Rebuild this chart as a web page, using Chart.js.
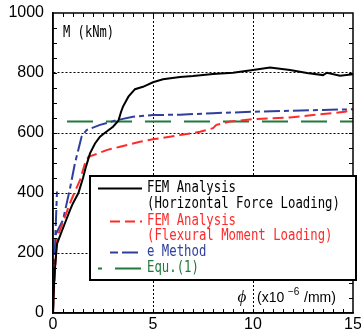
<!DOCTYPE html>
<html><head><meta charset="utf-8">
<script src="https://cdn.jsdelivr.net/npm/chart.js@4"></script>
<style>html,body{margin:0;padding:0;background:#fff}#wrap{width:361px;height:335px}</style>
</head><body><div id="wrap"><canvas id="c" width="361" height="335"></canvas></div>
<script>
// ---- data (phi in x10^-6 /mm, M in kNm) ----
const horizPhi = [0, 0.05, 0.1, 0.2, 0.27, 0.6, 0.85, 1.0, 1.27, 1.5, 1.65, 1.85, 2.1, 2.35, 2.6, 3.0, 3.27, 3.4, 3.5, 3.77, 4.1, 4.5, 5.0, 5.5, 6.35, 7.0, 8.0, 9.0, 10.0, 10.85, 11.85, 12.7, 13.5, 13.7, 14.35, 15.0];
const horizM   = [0, 90, 150, 230, 243, 300, 343, 366, 400, 450, 488, 532, 565, 588, 601, 621, 641, 670, 688, 721, 746, 754, 769, 779, 787, 790, 797, 801, 810, 818, 810, 800, 793, 801, 791, 796];

const flexPhi = [0, 0.05, 0.15, 0.22, 0.4, 0.6, 0.85, 1.0, 1.35, 1.6, 1.77, 2.18, 2.68, 3.35, 4.35, 5.0, 6.35, 7.35, 8.0, 8.17, 8.85, 10.0, 11.85, 13.0, 14.0, 14.6, 15.0];
const flexM   = [0, 80, 200, 255, 285, 321, 366, 390, 443, 499, 521, 530, 543, 554, 571, 579, 593, 604, 616, 627, 638, 646, 652, 660, 666, 671, 679];

const eMethodAPhi = [0, 0.05, 0.12, 0.2];
const eMethodAM   = [0, 120, 260, 405];
const eMethodBPhi = [0.12, 0.5, 0.85, 1.1, 1.43, 1.68, 2.35, 3.2, 4.0, 5.0, 6.35, 8.0, 10.0, 11.85, 13.5, 15.0];
const eMethodBM   = [260, 310, 415, 500, 588, 610, 627, 643, 654, 660, 661, 666, 671, 674, 677, 679];

const equPhi = [0, 15];
const equM   = [638, 638];

const xTickLabels = [0, 5, 10, 15];
const yTickLabels = [0, 200, 400, 600, 800, 1000];

const legendLabels = [
  ["FEM Analysis", "(Horizontal Force Loading)"],
  ["FEM Analysis", "(Flexural Moment Loading)"],
  ["e Method"],
  ["Equ.(1)"]
];

// ---- colours / styles ----
const C_BLACK = '#000000', C_RED = '#ff2a2a', C_BLUE = '#2e3f9c', C_GREEN = '#1f7a3c';
const pts = (xs, ys) => xs.map((v, i) => ({x: v, y: ys[i]}));

const datasets = [
  {label: legendLabels[0].join(' '), data: pts(horizPhi, horizM), borderColor: C_BLACK, borderWidth: 2},
  {label: legendLabels[1].join(' '), data: pts(flexPhi, flexM), borderColor: C_RED, borderWidth: 2, borderDash: [11, 5]},
  {label: legendLabels[2][0], data: pts(eMethodAPhi, eMethodAM), borderColor: C_BLUE, borderWidth: 2, borderDash: [16, 4, 5, 4]},
  {label: legendLabels[2][0], data: pts(eMethodBPhi, eMethodBM), borderColor: C_BLUE, borderWidth: 2, borderDash: [16, 4, 5, 4]},
  {label: legendLabels[3][0], data: pts(equPhi, equM), borderColor: C_GREEN, borderWidth: 2, borderDash: [26, 13], borderDashOffset: 25}
];
datasets.forEach(d => { d.pointRadius = 0; d.tension = 0; d.fill = false; });

const MONO = '"DejaVu Sans Mono", "Liberation Mono", monospace';
function condText(ctx, s, x, y, perChar) {
  ctx.fillText(s, x, y, s.length * perChar);
}

const framePlugin = {
  id: 'frame',
  afterDraw(chart) {
    const {ctx, chartArea: a, scales: {x, y}} = chart;
    ctx.save();
    ctx.strokeStyle = '#000';
    ctx.lineWidth = 1;
    ctx.beginPath();
    for (let v = 0.5; v < 15; v += 0.5) {
      const px = Math.round(x.getPixelForValue(v)) + 0.5;
      ctx.moveTo(px, a.bottom); ctx.lineTo(px, a.bottom - 4);
      ctx.moveTo(px, a.top); ctx.lineTo(px, a.top + 4);
    }
    for (let v = 50; v < 1000; v += 50) {
      const py = Math.round(y.getPixelForValue(v)) + 0.5;
      ctx.moveTo(a.left, py); ctx.lineTo(a.left + 4, py);
      ctx.moveTo(a.right, py); ctx.lineTo(a.right - 4, py);
    }
    ctx.stroke();
    ctx.lineWidth = 1.5;
    ctx.strokeRect(a.left, a.top, a.right - a.left, a.bottom - a.top);

    // axis titles
    ctx.fillStyle = '#000';
    ctx.textBaseline = 'middle';
    ctx.textAlign = 'left';
    ctx.font = '15px ' + MONO;
    condText(ctx, 'M (kNm)', 63, 33, 7.3);

    ctx.font = 'italic 17px "Liberation Serif", serif';
    ctx.textAlign = 'center';
    ctx.fillText('\u03D5', 242, 298);
    ctx.textAlign = 'left';
    ctx.font = '14px "Liberation Sans", Arial, sans-serif';
    ctx.fillText('(x10', 257, 298);
    ctx.font = '10px "Liberation Sans", Arial, sans-serif';
    ctx.fillText('\u22126', 288, 292);
    ctx.font = '14px "Liberation Sans", Arial, sans-serif';
    ctx.fillText('/mm)', 304, 298);

    // legend box
    const L = 90, T = 176, R = 356, B = 280;
    ctx.fillStyle = '#fff';
    ctx.fillRect(L, T, R - L, B - T);
    ctx.lineWidth = 2;
    ctx.strokeStyle = '#000';
    ctx.strokeRect(L, T, R - L, B - T);

    const entries = [
      {lines: legendLabels[0], color: C_BLACK, ys: [188, 204], x0: 98, x1: 142, dash: [], off: 0},
      {lines: legendLabels[1], color: C_RED, ys: [221, 236], x0: 110, x1: 142, dash: [10, 5], off: 0},
      {lines: legendLabels[2], color: C_BLUE, ys: [252], x0: 110, x1: 140, dash: [8, 4, 16, 4], off: 0},
      {lines: legendLabels[3], color: C_GREEN, ys: [268], x0: 98, x1: 142, dash: [26, 13], off: 22}
    ];
    entries.forEach(e => {
      ctx.save();
      ctx.strokeStyle = e.color;
      ctx.lineWidth = 2;
      ctx.setLineDash(e.dash);
      ctx.lineDashOffset = e.off;
      ctx.beginPath();
      ctx.moveTo(e.x0, e.ys[0] + 0.5); ctx.lineTo(e.x1, e.ys[0] + 0.5);
      ctx.stroke();
      ctx.restore();
      ctx.fillStyle = e.color;
      ctx.font = '15px ' + MONO;
      ctx.textBaseline = 'middle';
      ctx.textAlign = 'left';
      e.lines.forEach((s, i) => condText(ctx, s, 147, e.ys[i], 7.42));
    });
    ctx.restore();
  }
};

const tickFont = {family: '"Liberation Sans Narrow", "Liberation Sans", Arial, sans-serif', size: 16};
const edgeTransparent = (vals) => (c) => (c.tick && (c.tick.value === vals[0] || c.tick.value === vals[1])) ? 'rgba(0,0,0,0)' : '#000';

new Chart(document.getElementById('c'), {
  type: 'line',
  data: {datasets},
  options: {
    responsive: false,
    devicePixelRatio: 1,
    animation: false,
    parsing: true,
    layout: {padding: {top: 13, right: 8, left: 0, bottom: 0}},
    plugins: {legend: {display: false}, tooltip: {enabled: false}},
    scales: {
      x: {
        type: 'linear', min: 0, max: 15,
        afterBuildTicks: s => { s.ticks = xTickLabels.map(v => ({value: v})); },
        afterFit: s => { s.height = 22; s.paddingLeft = 0; s.paddingRight = 0; },
        ticks: {color: '#000', font: tickFont, padding: 2, maxRotation: 0, autoSkip: false, callback: v => String(v)},
        grid: {drawTicks: false, color: edgeTransparent([0, 15]), lineWidth: 1},
        border: {display: true, color: '#000', width: 1.5, dash: [2, 2]}
      },
      y: {
        type: 'linear', min: 0, max: 1000,
        afterBuildTicks: s => { s.ticks = yTickLabels.map(v => ({value: v})); },
        afterFit: s => { s.width = 53; s.paddingTop = 0; s.paddingBottom = 0; },
        ticks: {color: '#000', font: tickFont, padding: 9, autoSkip: false, callback: v => String(v)},
        grid: {drawTicks: false, color: edgeTransparent([0, 1000]), lineWidth: 1},
        border: {display: true, color: '#000', width: 1.5, dash: [2, 2]}
      }
    }
  },
  plugins: [framePlugin]
});
</script>
</body></html>
